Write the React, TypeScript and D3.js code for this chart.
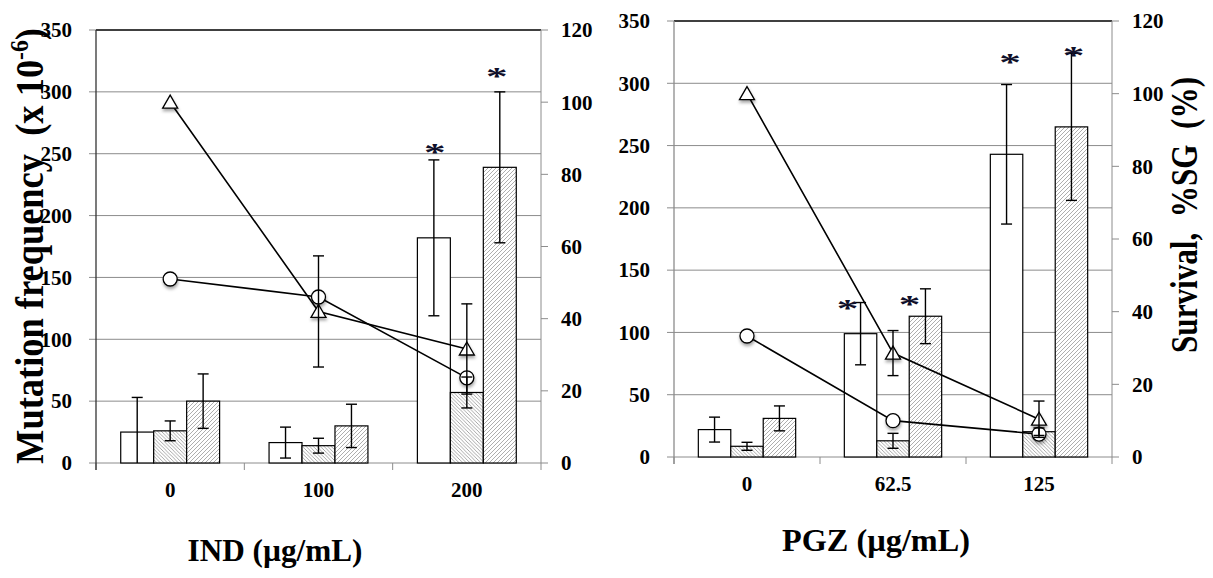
import React from "react";
import * as d3 from "d3";

// ---------- DATA ----------
const indDoses = ["0", "100", "200"];
const pgzDoses = ["0", "62.5", "125"];

const freqTicks = [0, 50, 100, 150, 200, 250, 300, 350];
const survTicks = [0, 20, 40, 60, 80, 100, 120];

// IND panel – mutation frequency bars (x 10^-6)
const indOpen = [25, 16.5, 182];
const indOpenErr = [28, 12.5, 63];
const indDense = [26, 14, 57];
const indDenseErr = [8, 6, 12.5];
const indLight = [50, 30, 239];
const indLightErr = [22, 17.5, 61];
// IND panel – survival (%)
const indTriangle = [100, 42, 31.6];
const indTriangleErr = [0, 15.4, 12.5];
const indCircle = [51, 46, 23.6];
// IND significance marks: [dose index, bar index, frequency value at mark centre]
const indStars: [number, number, number][] = [
  [2, 0, 254],
  [2, 2, 315.5],
];

// PGZ panel
const pgzOpen = [22, 99, 243];
const pgzOpenErr = [10, 25, 56];
const pgzDense = [8.6, 13, 20.3];
const pgzDenseErr = [3.2, 6, 3];
const pgzLight = [31, 113, 265];
const pgzLightErr = [10, 22, 59];
const pgzTriangle = [100, 28.6, 10.4];
const pgzTriangleErr = [0, 6.2, 5];
const pgzCircle = [33.3, 10, 6.3];
const pgzStars: [number, number, number][] = [
  [1, 0, 122],
  [1, 2, 125.5],
  [2, 0, 319.3],
  [2, 2, 325.4],
];

// ---------- STYLE / LAYOUT ----------
const FONT = "Liberation Serif";
const GRID = "#8c8c8c";
const barKeys = ["open", "dense", "light"];
const barFills = ["#ffffff", "url(#hatchDense)", "url(#hatchLight)"];

const indLayout = { x0: 96, x1: 541, yTop: 30, yBase: 463, leftAxisColor: "#333333", starDx: [1, -3] };
const pgzLayout = { x0: 674, x1: 1112, yTop: 21, yBase: 457, leftAxisColor: GRID, starDx: [-13, -16, 3.5, 2] };

type PanelProps = {
  doses: string[];
  bars: number[][];
  errs: number[][];
  tri: number[];
  triErr: number[];
  circ: number[];
  stars: [number, number, number][];
  layout: typeof indLayout;
};

function ErrorBar({ x, yHi, yLo, capLo = true }: { x: number; yHi: number; yLo: number; capLo?: boolean }) {
  const c = 5.5;
  return (
    <g stroke="#000" strokeWidth={1.4}>
      <line x1={x} x2={x} y1={yHi} y2={yLo} />
      <line x1={x - c} x2={x + c} y1={yHi} y2={yHi} />
      {capLo && <line x1={x - c} x2={x + c} y1={yLo} y2={yLo} />}
    </g>
  );
}

function Panel({ doses, bars, errs, tri, triErr, circ, stars, layout }: PanelProps) {
  const { x0, x1, yTop, yBase } = layout;
  const xCat = d3.scaleBand<string>().domain(doses).range([x0, x1]);
  const bw = xCat.bandwidth();
  const xSub = d3.scaleBand<string>().domain(barKeys).range([0, bw]).paddingOuter(0.75);
  const yF = d3.scaleLinear().domain([0, 350]).range([yBase, yTop]);
  const yS = d3.scaleLinear().domain([0, 120]).range([yBase, yTop]);
  const cx = (i: number) => (xCat(doses[i]) as number) + bw / 2;
  const bx = (i: number, k: number) => (xCat(doses[i]) as number) + (xSub(barKeys[k]) as number);
  const sw = xSub.bandwidth();

  const line = d3
    .line<number>()
    .x((_, i) => cx(i))
    .y((d) => yS(d));

  return (
    <g>
      {/* gridlines */}
      {freqTicks.slice(1, -1).map((t) => (
        <line key={"g" + t} x1={x0} x2={x1} y1={yF(t)} y2={yF(t)} stroke={GRID} strokeWidth={1} />
      ))}
      <line x1={x0} x2={x1} y1={yF(350)} y2={yF(350)} stroke="#000" strokeWidth={1.3} />
      {/* x axis */}
      <line x1={x0} x2={x1} y1={yBase} y2={yBase} stroke={GRID} strokeWidth={1} />
      {doses.map((d) => (
        <line key={"xt" + d} x1={xCat(d)} x2={xCat(d)} y1={yBase} y2={yBase + 7} stroke={GRID} />
      ))}
      <line x1={x1} x2={x1} y1={yBase} y2={yBase + 7} stroke={GRID} />
      {/* left axis ticks */}
      {freqTicks.map((t) => (
        <line key={"lt" + t} x1={x0 - 7} x2={x0} y1={yF(t)} y2={yF(t)} stroke={GRID} />
      ))}
      {/* right axis */}
      <line x1={x1} x2={x1} y1={yTop} y2={yBase} stroke={GRID} strokeWidth={1} />
      {survTicks.map((t) => (
        <line key={"rt" + t} x1={x1} x2={x1 + 7} y1={yS(t)} y2={yS(t)} stroke={GRID} />
      ))}

      {/* bars */}
      {bars.map((vals, k) =>
        vals.map((v, i) => (
          <rect
            key={`b${k}-${i}`}
            x={bx(i, k)}
            y={yF(v)}
            width={sw}
            height={yBase - yF(v)}
            fill={barFills[k]}
            stroke="#000"
            strokeWidth={1.2}
          />
        ))
      )}
      {/* left axis line */}
      <line x1={x0} x2={x0} y1={yTop} y2={yBase + 7} stroke={layout.leftAxisColor} strokeWidth={1.3} />

      {/* survival lines */}
      <path d={line(tri) as string} fill="none" stroke="#000" strokeWidth={1.6} />
      <path d={line(circ) as string} fill="none" stroke="#000" strokeWidth={1.6} />
      {tri.map((v, i) => {
        const x = cx(i);
        const y = yS(v);
        return (
          <path
            key={"tri" + i}
            d={`M${x},${y - 7}L${x + 7.5},${y + 6}L${x - 7.5},${y + 6}Z`}
            fill="#fff"
            stroke="#000"
            strokeWidth={1.3}
            filter="url(#mshadow)"
          />
        );
      })}
      {circ.map((v, i) => (
        <circle key={"c" + i} cx={cx(i)} cy={yS(v)} r={7} fill="#fff" stroke="#000" strokeWidth={1.3} filter="url(#mshadow)" />
      ))}

      {/* error bars */}
      {bars.map((vals, k) =>
        vals.map((v, i) => {
          const lo = v - errs[k][i];
          return (
            <ErrorBar
              key={`e${k}-${i}`}
              x={bx(i, k) + sw / 2}
              yHi={yF(v + errs[k][i])}
              yLo={yF(Math.max(0, lo))}
              capLo={lo >= 0}
            />
          );
        })
      )}
      {tri.map((v, i) =>
        triErr[i] > 0 ? (
          <ErrorBar key={"te" + i} x={cx(i)} yHi={yS(v + triErr[i])} yLo={yS(v - triErr[i])} />
        ) : null
      )}

      {/* significance asterisks */}
      {stars.map(([i, k, v], j) => (
        <g key={"s" + j} transform={`translate(${bx(i, k) + sw / 2 + layout.starDx[j]},${yF(v)})`}>
          <text
            transform="scale(1.2,0.72)"
            y={17}
            textAnchor="middle"
            fontFamily={FONT}
            fontWeight="bold"
            fontSize={36}
            fill="#10102a"
          >
            *
          </text>
        </g>
      ))}

      {/* tick labels */}
      {freqTicks.map((t) => (
        <text key={"ll" + t} x={x0 - 24} y={yF(t)} dy="0.35em" textAnchor="end" fontFamily={FONT} fontWeight="bold" fontSize={21}>
          {t}
        </text>
      ))}
      {survTicks.map((t) => (
        <text key={"rl" + t} x={x1 + 20} y={yS(t)} dy="0.35em" textAnchor="start" fontFamily={FONT} fontWeight="bold" fontSize={21}>
          {t}
        </text>
      ))}
      {doses.map((d, i) => (
        <text key={"xl" + d} x={cx(i)} y={yBase + 34} textAnchor="middle" fontFamily={FONT} fontWeight="bold" fontSize={21}>
          {d}
        </text>
      ))}
    </g>
  );
}

export default function App() {
  return (
    <svg
      width={1213}
      height={578}
      style={{ position: "absolute", left: 0, top: 0, background: "#fff" }}
      xmlns="http://www.w3.org/2000/svg"
    >
      <defs>
        <pattern id="hatchDense" patternUnits="userSpaceOnUse" width={3.6} height={3.6}>
          <rect width={3.6} height={3.6} fill="#fff" />
          <path d="M-1,-1L4.6,4.6M-1,2.6L1,4.6M2.6,-1L4.6,1" stroke="#8a8a8a" strokeWidth={0.75} />
        </pattern>
        <pattern id="hatchLight" patternUnits="userSpaceOnUse" width={4} height={4}>
          <rect width={4} height={4} fill="#fff" />
          <path d="M-1,5L5,-1M-1,1L1,-1M3,5L5,3" stroke="#999" strokeWidth={0.8} />
        </pattern>
        <filter id="mshadow" x="-50%" y="-50%" width="200%" height="220%">
          <feDropShadow dx={0.5} dy={2.5} stdDeviation={1.6} floodColor="#000" floodOpacity={0.35} />
        </filter>
      </defs>

      <Panel
        doses={indDoses}
        bars={[indOpen, indDense, indLight]}
        errs={[indOpenErr, indDenseErr, indLightErr]}
        tri={indTriangle}
        triErr={indTriangleErr}
        circ={indCircle}
        stars={indStars}
        layout={indLayout}
      />
      <Panel
        doses={pgzDoses}
        bars={[pgzOpen, pgzDense, pgzLight]}
        errs={[pgzOpenErr, pgzDenseErr, pgzLightErr]}
        tri={pgzTriangle}
        triErr={pgzTriangleErr}
        circ={pgzCircle}
        stars={pgzStars}
        layout={pgzLayout}
      />

      {/* axis titles */}
      <text
        transform="translate(43,246) rotate(-90)"
        textAnchor="middle"
        fontFamily={FONT}
        fontWeight="bold"
        fontSize={40}
        textLength={436}
        lengthAdjust="spacingAndGlyphs"
        style={{ whiteSpace: "pre" }}
      >
        {"Mutation frequency  (x 10"}
        <tspan fontSize={26} dy={-15}>
          -6
        </tspan>
        <tspan dy={15}>)</tspan>
      </text>
      <text
        transform="translate(1197,215) rotate(-90)"
        textAnchor="middle"
        fontFamily={FONT}
        fontWeight="bold"
        fontSize={38}
        textLength={276}
        lengthAdjust="spacingAndGlyphs"
        style={{ whiteSpace: "pre" }}
      >
        {"Survival,  %SG  (%)"}
      </text>
      <text
        x={275}
        y={561}
        textAnchor="middle"
        fontFamily={FONT}
        fontWeight="bold"
        fontSize={32}
        textLength={175}
        lengthAdjust="spacingAndGlyphs"
      >
        IND (µg/mL)
      </text>
      <text
        x={876}
        y={551}
        textAnchor="middle"
        fontFamily={FONT}
        fontWeight="bold"
        fontSize={32}
        textLength={188}
        lengthAdjust="spacingAndGlyphs"
      >
        PGZ (µg/mL)
      </text>
    </svg>
  );
}
